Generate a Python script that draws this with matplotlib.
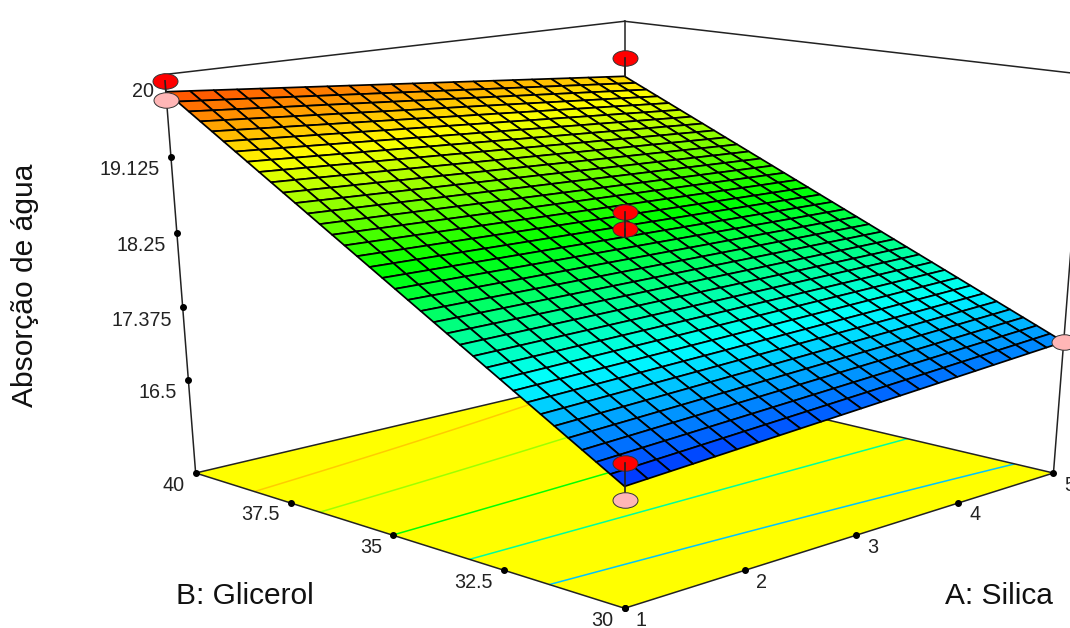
import numpy as np
import matplotlib
matplotlib.use("Agg")
import matplotlib.pyplot as plt
from matplotlib.colors import LinearSegmentedColormap, Normalize
from matplotlib.markers import MarkerStyle
from matplotlib.transforms import Affine2D
from mpl_toolkits.mplot3d import proj3d

plt.rcParams['font.family'] = ['Liberation Sans', 'DejaVu Sans']

# Eixos
a_ticks = [1, 2, 3, 4, 5]
b_ticks = [30, 32.5, 35, 37.5, 40]
z_ticks = [16.5, 17.375, 18.25, 19.125, 20]
z_labels = ['16.5', '17.375', '18.25', '19.125', '20']
z_floor = 15.34
z_top = 20.04

corner_a = [1, 5]
corner_b = [30, 40]
corner_z = [[16.66, 16.96], [19.85, 19.34]]  # linhas = B, colunas = A
n_a = 23
n_b = 37

# Pontos do planejamento
pts_a = [1, 1, 5, 3, 3, 1, 1, 5]
pts_b = [40, 40, 40, 35, 35, 30, 30, 30]
pts_z = [19.97, 19.76, 19.57, 18.49, 18.29, 16.91, 16.52, 16.96]
pts_surf = [19.85, 19.85, 19.34, 18.2, 18.2, 16.66, 16.66, 16.96]
pts_above = [True, False, True, True, True, True, False, False]

# Contornos no piso
levels = [17.15, 17.70, 18.26, 18.82, 19.35]

cmap = LinearSegmentedColormap.from_list('de', ['#0000ff', '#00ffff', '#00ff00', '#ffff00', '#ff0000'])
norm = Normalize(16.44, 20.08)

W, H = 1070, 628
fig = plt.figure(figsize=(W / 100, H / 100), dpi=100)
Sx = 1150
Sy = Sx * 0.66
cx, cy = 609, 291
ax = fig.add_axes([(cx - Sx / 2) / W, 1 - (cy + Sy / 2) / H, Sx / W, Sy / H],
                  projection='3d', computed_zorder=False)
# a imagem original esta achatada na vertical, entao nao pode ficar quadrado
ax.apply_aspect = lambda position=None: None
ax.set_axis_off()
ax.set_xlim(1, 5, view_margin=0)
ax.set_ylim(30, 40, view_margin=0)
ax.set_zlim(z_floor, z_top, view_margin=0)
ax.set_box_aspect((1, 1, 1.01), zoom=0.921)
ax.view_init(elev=18, azim=-135)
ax.set_proj_type('persp', focal_length=0.45)

a = np.linspace(corner_a[0], corner_a[1], n_a)
b = np.linspace(corner_b[0], corner_b[1], n_b)
AA, BB = np.meshgrid(a, b)
ta = (AA - corner_a[0]) / (corner_a[1] - corner_a[0])
tb = (BB - corner_b[0]) / (corner_b[1] - corner_b[0])
ZZ = (corner_z[0][0] * (1 - ta) + corner_z[0][1] * ta) * (1 - tb) + (corner_z[1][0] * (1 - ta) + corner_z[1][1] * ta) * tb

# Piso amarelo
ax.plot_surface(np.array([[1, 5], [1, 5]]), np.array([[30, 30], [40, 40]]), np.full((2, 2), z_floor),
                color='#ffff00', shade=False, edgecolor='none', zorder=1)
ax.contour(AA, BB, ZZ, levels=levels, offset=z_floor, cmap=cmap, norm=norm, linewidths=1.1, zorder=2)

# Caixa
edge = dict(color='#222222', lw=1.1, zorder=3)
ax.plot([1, 5], [30, 30], [z_floor, z_floor], **edge)
ax.plot([1, 1], [30, 40], [z_floor, z_floor], **edge)
ax.plot([1, 5], [40, 40], [z_floor, z_floor], **edge)
ax.plot([5, 5], [30, 40], [z_floor, z_floor], **edge)
ax.plot([1, 5], [40, 40], [z_top, z_top], **edge)
ax.plot([5, 5], [30, 40], [z_top, z_top], **edge)
for xa, xb in [(1, 40), (5, 40), (5, 30)]:
    ax.plot([xa, xa], [xb, xb], [z_floor, z_top], **edge)

ax.plot_surface(AA, BB, ZZ, facecolors=cmap(norm(ZZ)), rstride=1, cstride=1, shade=False,
                edgecolor='#000000', linewidth=1.25, zorder=4)

# Marcas dos eixos
tick = dict(color='black', marker='o', ms=4, ls='none', zorder=5)
ax.plot(a_ticks, [30] * 5, [z_floor] * 5, **tick)
ax.plot([1] * 5, b_ticks, [z_floor] * 5, **tick)
ax.plot([1] * 5, [40] * 5, z_ticks, **tick)

# Pontos
oval = MarkerStyle('o', transform=Affine2D().scale(1, 0.62))
for i in range(len(pts_a)):
    ax.plot([pts_a[i], pts_a[i]], [pts_b[i], pts_b[i]], [pts_surf[i], pts_z[i]],
            color='#222222', lw=1.2, zorder=7 if pts_above[i] else 6)
    ax.plot([pts_a[i]], [pts_b[i]], [pts_z[i]], marker=oval, ms=18, ls='none',
            mfc='#ff0000' if pts_above[i] else '#ffb6b6', mec='#333333', mew=0.7, zorder=6)


def label3d(xa, xb, z, txt, dx, dy, ha):
    px, py, _ = proj3d.proj_transform(xa, xb, z, ax.get_proj())
    ax.annotate(txt, (px, py), xytext=(dx, dy), textcoords='offset pixels', ha=ha, va='center',
                fontsize=14.2, color='#222222', annotation_clip=False)


for v in a_ticks:
    label3d(v, 30, z_floor, str(v), 11, -12, 'left')
for v in b_ticks:
    label3d(1, v, z_floor, f'{v:g}', -11, -12, 'right')
for v, s in zip(z_ticks, z_labels):
    label3d(1, 40, v, s, -11, -13, 'right')

fig.text(25 / W, 1 - 285 / H, 'Absorção de água', rotation=90, ha='center', va='center', fontsize=21.6, color='#111111')
fig.text(245 / W, 1 - 596 / H, 'B: Glicerol', ha='center', va='center', fontsize=21.5, color='#111111')
fig.text(999 / W, 1 - 596 / H, 'A: Silica', ha='center', va='center', fontsize=21.5, color='#111111')

fig.savefig('out.png', dpi=100)
